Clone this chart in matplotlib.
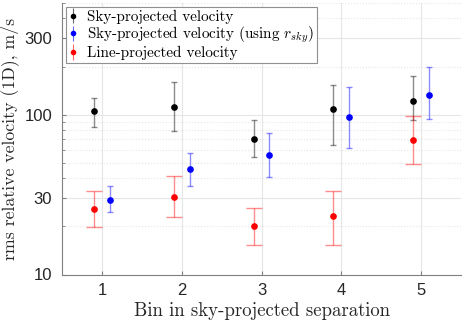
import matplotlib
matplotlib.use("Agg")
import matplotlib.pyplot as plt
import numpy as np
from matplotlib.ticker import FixedLocator, LogLocator, NullFormatter
from matplotlib.container import ErrorbarContainer
from matplotlib.legend_handler import HandlerErrorbar

plt.rcParams['mathtext.fontset'] = 'cm'
plt.rcParams['font.family'] = ['Liberation Sans', 'DejaVu Sans']

bins = np.array([1, 2, 3, 4, 5])

# sky-projected velocity
sky = [106, 111, 70, 108, 122.6]
sky_lo = [83.5, 79.6, 54, 65, 92]
sky_hi = [128, 160, 93.3, 154.5, 174]

# sky-projected velocity using r_sky
rsky = [29.3, 45.6, 56.1, 96.8, 132.4]
rsky_lo = [24.5, 35.9, 40.5, 62, 93.7]
rsky_hi = [35.7, 57.2, 76.3, 150, 198]

# line-projected velocity
line = [25.8, 30.4, 20.1, 23.3, 69.6]
line_lo = [19.7, 22.8, 15.4, 15.4, 49]
line_hi = [33.1, 41.3, 25.9, 33.3, 97.5]

yticks = [10, 30, 100, 300]


def err(v, lo, hi):
    v = np.array(v)
    return [v - np.array(lo), np.array(hi) - v]


fig = plt.figure(figsize=(4.63, 3.22), dpi=100)
ax = fig.add_axes([62 / 463, 1 - 274.5 / 322, 399 / 463, 271.5 / 322])

series = [
    (bins - 0.1, sky, sky_lo, sky_hi, 'k', 2.0, 'Sky-projected velocity'),
    (bins + 0.1, rsky, rsky_lo, rsky_hi, 'b', 2.0, r'Sky-projected velocity (using $r_{sky}$)'),
    (bins - 0.1, line, line_lo, line_hi, 'r', 6, 'Line-projected velocity'),
]
handles = []
for x, v, lo, hi, c, cap, lab in series:
    eb = ax.errorbar(x, v, yerr=err(v, lo, hi), fmt='o', color=c, ms=3.8,
                     ecolor=c, elinewidth=1.0, capsize=cap, capthick=1.0,
                     label='_nolegend_', zorder=3)
    for art in eb[1] + eb[2]:
        art.set_alpha(0.45)
    # small legend proxy (same small caps for all series)
    pr = ax.errorbar([], [], yerr=[], fmt='o', color=c, ms=3.0, ecolor=c,
                     elinewidth=0.8, capsize=1.5, capthick=0.8, label=lab)
    for art in pr[1] + pr[2]:
        art.set_alpha(0.6)
    handles.append(pr)

ax.set_yscale('log')
ax.set_ylim(10, 500)
ax.set_xlim(0.5, 5.5)
ax.set_xticks(bins)
ax.yaxis.set_major_locator(FixedLocator(yticks))
ax.set_yticklabels([str(t) for t in yticks])
ax.yaxis.set_minor_locator(LogLocator(subs=np.arange(2, 10)))
ax.yaxis.set_minor_formatter(NullFormatter())

ax.grid(True, which='major', color='#e6e6e6', lw=0.8)
ax.grid(True, which='minor', axis='y', color='#e6e6e6', lw=0.8, ls=':')
ax.set_axisbelow(True)

for s in ['top', 'right']:
    ax.spines[s].set_visible(False)
for s in ['left', 'bottom']:
    ax.spines[s].set_color('#808080')
ax.tick_params(which='both', direction='in', color='#808080', labelsize=12,
               labelcolor='#262626')
ax.tick_params(which='major', length=3)
ax.tick_params(which='minor', length=1.8)
ax.tick_params(axis='y', which='major', pad=7)
ax.tick_params(axis='x', which='major', pad=6)

ax.set_xlabel('Bin in sky-projected separation',
              fontdict=dict(family='cmr10', size=13.5, color='#262626'), labelpad=3)
ax.set_ylabel('rms relative velocity (1D), m/s',
              fontdict=dict(family='cmr10', size=12.8, color='#262626'), labelpad=4)

leg = ax.legend(handles=handles, loc='upper left',
                prop={'family': 'cmr10', 'size': 10.9},
                handler_map={ErrorbarContainer: HandlerErrorbar(yerr_size=0.5)},
                handlelength=0.5, handletextpad=0.7, borderpad=0.2,
                labelspacing=0.05, borderaxespad=0.25, fancybox=False,
                framealpha=1, edgecolor='#909090')
leg.get_frame().set_linewidth(0.8)

fig.savefig('out.png', dpi=100)
